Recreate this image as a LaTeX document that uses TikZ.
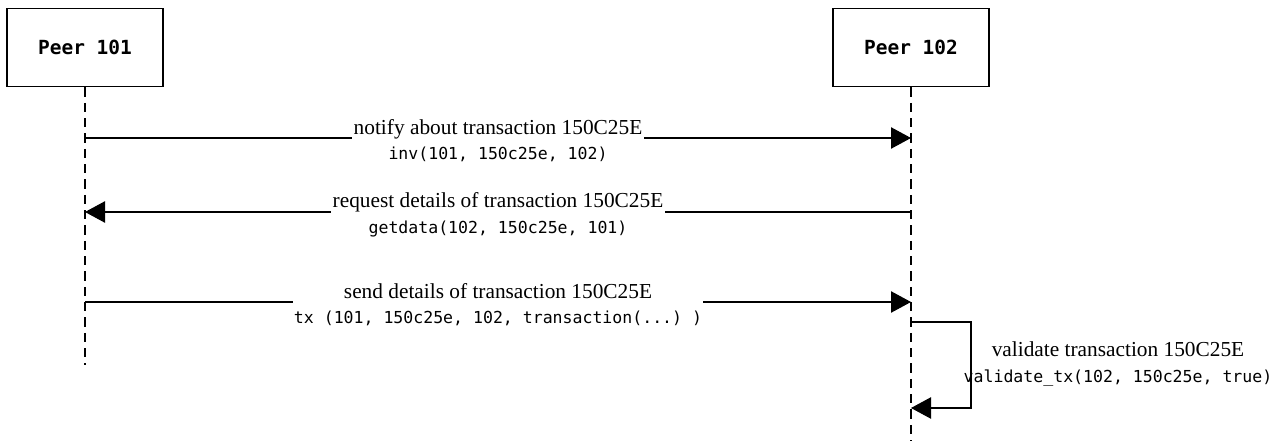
\documentclass[tikz,border=0pt]{standalone}
\usepackage{fontspec}
\setmainfont{Liberation Serif}
\setmonofont{DejaVu Sans Mono}
\usetikzlibrary{arrows.meta}

\newcommand{\calltext}[1]{{\ttfamily\fontsize{12.4}{19}\selectfont #1}}

\begin{document}
\begin{tikzpicture}[x = 0.75pt, y = -0.75pt, line width = 0.9pt,
	peer/.style = {draw, minimum width = 117pt, minimum height = 59pt, font = \ttfamily\bfseries\fontsize{14.6}{17}\selectfont},
	lifeline/.style = {dash pattern = on 7pt off 4.5pt},
	msg/.style = {-{Triangle[length = 15pt, width = 16pt]}},
	lbl/.style = {fill = white, align = center, inner sep = 1pt, font = \fontsize{16}{19}\selectfont}]
	 \useasboundingbox (0, 0) rectangle (1284, 441);

	 \node[peer] (p101) at (85, 47.5) {Peer 101};
	 \node[peer] (p102) at (911, 47.5) {Peer 102};

	 \coordinate (end101) at (p101.south |- 0, 365);
	 \coordinate (end102) at (p102.south |- 0, 441);
	 \draw[lifeline] (p101) -- (end101);
	 \draw[lifeline] (p102) -- (end102);

	 \coordinate (inv101) at (p101.south |- 0, 138);
	 \coordinate (inv102) at (p102.south |- 0, 138);
	 \coordinate (get101) at (p101.south |- 0, 212);
	 \coordinate (get102) at (p102.south |- 0, 212);
	 \coordinate (tx101) at (p101.south |- 0, 302);
	 \coordinate (tx102) at (p102.south |- 0, 302);
	 \coordinate (valout) at (p102.south |- 0, 322);
	 \coordinate (valin) at (p102.south |- 0, 408);

	 \draw[msg] (inv101) -- node[lbl, yshift = -2pt] (notify) {notify about transaction 150C25E\\ \calltext{inv(101, 150c25e, 102)}} (inv102);
	 \draw[msg] (get102) -- node[lbl, yshift = -2pt] (request) {request details of transaction 150C25E\\ \calltext{getdata(102, 150c25e, 101)}} (get101);
	 \draw[msg] (tx101) -- node[lbl, yshift = -2pt] (send) {send details of transaction 150C25E\\ \calltext{tx (101, 150c25e, 102, transaction(...) )}} (tx102);

	 \draw[msg] (valout) -- ++(60, 0) |- (valin);
	 \node[lbl, fill = none] (validate) at (1118, 364) {validate transaction 150C25E\\ \calltext{validate\_tx(102, 150c25e, true)}};
\end{tikzpicture}
\end{document}
